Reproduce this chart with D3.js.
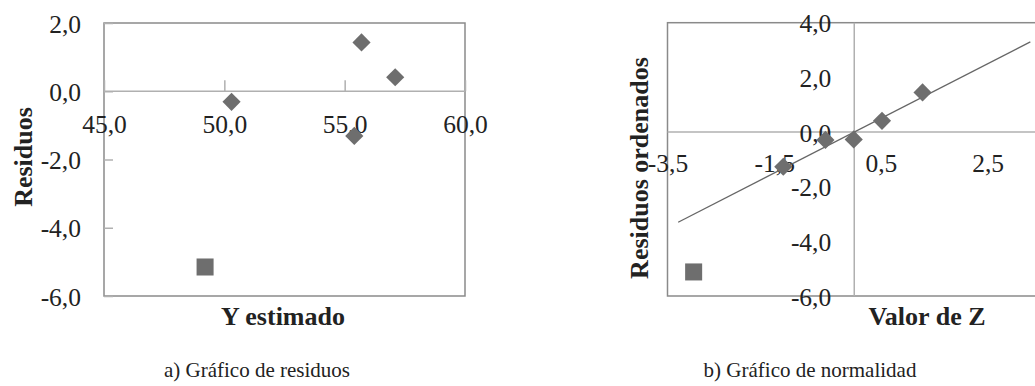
<!DOCTYPE html>
<html>
<head>
<meta charset="utf-8">
<script src="https://cdn.jsdelivr.net/npm/d3@7"></script>
<style>
  body { margin: 0; background: #fff; }
</style>
</head>
<body>
<div id="wrapper"></div>
<script>
// a) residuals vs fitted
const fittedY = [55.7, 57.1, 50.3, 55.4];
const residuals = [1.43, 0.41, -0.31, -1.31];
const outlierFitted = 49.2;
const outlierResidual = -5.15;
const resXTicks = [45, 50, 55, 60];
const resYTicks = [2, 0, -2, -4, -6];

// b) normal probability plot
const zValues = [1.28, 0.52, -0.01, -0.54, -1.33];
const orderedResiduals = [1.45, 0.41, -0.27, -0.29, -1.27];
const outlierZ = -3.01;
const outlierOrdered = -5.12;
const refLineZ = [-3.3, 3.3];
const refLineY = [-3.3, 3.3];
const normXTicks = [-3.5, -1.5, 0.5, 2.5];
const normYTicks = [4, 2, 0, -2, -4, -6];

const locale = d3.formatLocale({ decimal: ',', thousands: '.', grouping: [3], currency: ['', ''], minus: '-' });
const fmt = locale.format('.1f');

const width = 1035;
const height = 386;
const font = '"Liberation Serif", "Times New Roman", Times, serif';
const textColor = '#222';
const markColor = '#6e6e6e';
const frameColor = '#8a8a8a';
const gridColor = '#b0b0b0';
const tickFont = 25.5;

const svg = d3.select('#wrapper')
    .append('svg')
    .attr('width', width)
    .attr('height', height);

function styleText(sel, size, weight) {
    sel.style('font-family', font)
        .style('font-size', size + 'px')
        .style('font-weight', weight || 'normal')
        .attr('fill', textColor);
}

// ---------- chart a ----------
const xA = d3.scaleLinear().domain([45, 60]).range([104, 465]);
const yA = d3.scaleLinear().domain([-6, 2]).range([296, 23]);

const gA = svg.append('g');

gA.append('rect')
    .attr('x', xA(45)).attr('y', yA(2))
    .attr('width', xA(60) - xA(45)).attr('height', yA(-6) - yA(2))
    .attr('fill', 'none').attr('stroke', frameColor).attr('stroke-width', 1.5);

// zero line
gA.append('line')
    .attr('x1', xA(45)).attr('x2', xA(60))
    .attr('y1', yA(0)).attr('y2', yA(0))
    .attr('stroke', gridColor).attr('stroke-width', 1.5);

// y axis, ticks point inward
const yAxisA = gA.append('g')
    .attr('transform', `translate(${xA(45)},0)`)
    .call(d3.axisRight(yA).tickValues(resYTicks).tickSize(9).tickFormat(fmt));
yAxisA.select('.domain').remove();
yAxisA.selectAll('.tick line').attr('stroke', gridColor).attr('stroke-width', 1.5);
yAxisA.selectAll('.tick text')
    .attr('x', -23).attr('dy', '0.36em')
    .attr('text-anchor', 'end')
    .call(styleText, tickFont);

// x axis sits on the zero line
const xAxisA = gA.append('g')
    .attr('transform', `translate(0,${yA(0)})`)
    .call(d3.axisTop(xA).tickValues(resXTicks).tickSize(11).tickFormat(fmt));
xAxisA.select('.domain').remove();
xAxisA.selectAll('.tick line').attr('stroke', gridColor).attr('stroke-width', 1.5);
xAxisA.selectAll('.tick text')
    .attr('y', 42).attr('dy', 0)
    .call(styleText, tickFont);

gA.selectAll('.pt')
    .data(fittedY)
    .join('path')
    .attr('d', d3.symbol(d3.symbolSquare, 165)())
    .attr('transform', (d, i) => `translate(${xA(d)},${yA(residuals[i])}) rotate(45)`)
    .attr('fill', markColor);

gA.append('path')
    .attr('d', d3.symbol(d3.symbolSquare, 290)())
    .attr('transform', `translate(${xA(outlierFitted)},${yA(outlierResidual)})`)
    .attr('fill', markColor);

gA.append('text')
    .attr('transform', 'translate(32,157) rotate(-90)')
    .attr('text-anchor', 'middle')
    .call(styleText, 26, 'bold')
    .text('Residuos');

gA.append('text')
    .attr('x', 283).attr('y', 325)
    .attr('text-anchor', 'middle')
    .call(styleText, 26, 'bold')
    .text('Y estimado');

gA.append('text')
    .attr('x', 257).attr('y', 377)
    .attr('text-anchor', 'middle')
    .call(styleText, 21)
    .text('a) Gráfico de residuos');

// ---------- chart b ----------
const xB = d3.scaleLinear().domain([-3.5, 3.5]).range([667.5, 1041]);
const yB = d3.scaleLinear().domain([-6, 4]).range([296, 22.7]);

const gB = svg.append('g');

gB.append('rect')
    .attr('x', xB(-3.5)).attr('y', yB(4))
    .attr('width', xB(3.5) - xB(-3.5)).attr('height', yB(-6) - yB(4))
    .attr('fill', 'none').attr('stroke', frameColor).attr('stroke-width', 1.5);

gB.append('line')
    .attr('x1', xB(-3.5)).attr('x2', xB(3.5))
    .attr('y1', yB(0)).attr('y2', yB(0))
    .attr('stroke', gridColor).attr('stroke-width', 1.5);

gB.append('line')
    .attr('x1', xB(0)).attr('x2', xB(0))
    .attr('y1', yB(4)).attr('y2', yB(-6))
    .attr('stroke', gridColor).attr('stroke-width', 1.5);

const yAxisB = gB.append('g')
    .attr('transform', `translate(${xB(0)},0)`)
    .call(d3.axisLeft(yB).tickValues(normYTicks).tickSize(0).tickFormat(fmt));
yAxisB.select('.domain').remove();
yAxisB.selectAll('.tick text')
    .attr('x', -23).attr('dy', '0.36em')
    .call(styleText, tickFont);

const xAxisB = gB.append('g')
    .attr('transform', `translate(0,${yB(0)})`)
    .call(d3.axisBottom(xB).tickValues(normXTicks).tickSize(0).tickFormat(fmt));
xAxisB.select('.domain').remove();
xAxisB.selectAll('.tick text')
    .attr('y', 40).attr('dy', 0)
    .call(styleText, tickFont);

gB.append('path')
    .datum(refLineZ.map((z, i) => [z, refLineY[i]]))
    .attr('d', d3.line().x(d => xB(d[0])).y(d => yB(d[1])))
    .attr('stroke', '#666').attr('stroke-width', 1.3).attr('fill', 'none');

gB.selectAll('.pt')
    .data(zValues)
    .join('path')
    .attr('d', d3.symbol(d3.symbolSquare, 165)())
    .attr('transform', (d, i) => `translate(${xB(d)},${yB(orderedResiduals[i])}) rotate(45)`)
    .attr('fill', markColor);

gB.append('path')
    .attr('d', d3.symbol(d3.symbolSquare, 290)())
    .attr('transform', `translate(${xB(outlierZ)},${yB(outlierOrdered)})`)
    .attr('fill', markColor);

gB.append('text')
    .attr('transform', 'translate(648,168) rotate(-90)')
    .attr('text-anchor', 'middle')
    .call(styleText, 26, 'bold')
    .text('Residuos ordenados');

gB.append('text')
    .attr('x', 927).attr('y', 325)
    .attr('text-anchor', 'middle')
    .call(styleText, 26, 'bold')
    .text('Valor de Z');

gB.append('text')
    .attr('x', 810).attr('y', 377)
    .attr('text-anchor', 'middle')
    .call(styleText, 21)
    .text('b) Gráfico de normalidad');
</script>
</body>
</html>
